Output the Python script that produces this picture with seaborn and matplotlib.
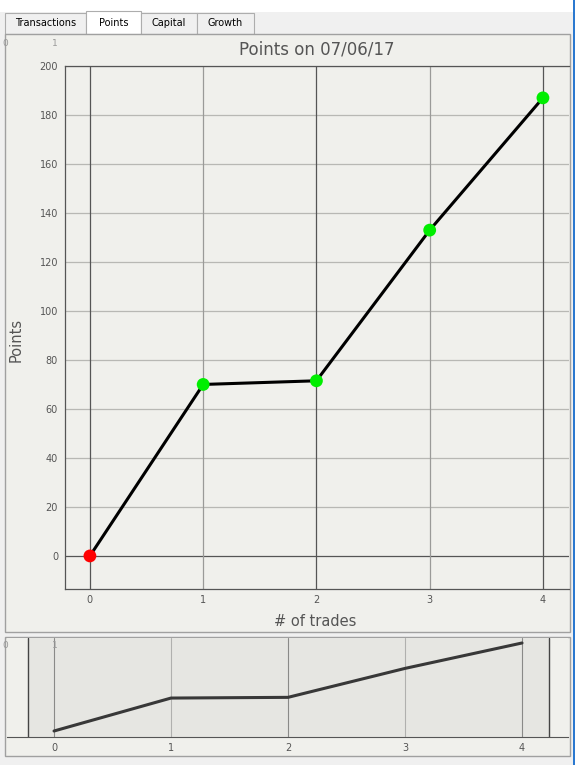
import matplotlib
matplotlib.use("Agg")
import matplotlib.pyplot as plt
from matplotlib.patches import Rectangle
import pandas as pd
import seaborn as sns

trades = [0, 1, 2, 3, 4]
points = [0, 70, 71.5, 133, 187]
marker_kind = ["start", "gain", "gain", "gain", "gain"]
tabs = ["Transactions", "Points", "Capital", "Growth"]
title = "Points on 07/06/17"
y_ticks = list(range(0, 201, 20))

W, H = 575, 765
BG = "#f0f0f0"
PANEL = "#f0f0ec"
TXT = "#555555"


def box(x0, y0, x1, y1):
    # pixel box (top-left origin) -> figure fraction
    return [x0 / W, 1 - y1 / H, (x1 - x0) / W, (y1 - y0) / H]


def rect(fig, x0, y0, x1, y1, fc, ec="none", lw=1.0, z=-5):
    b = box(x0, y0, x1, y1)
    fig.patches.append(Rectangle((b[0], b[1]), b[2], b[3], transform=fig.transFigure,
                                 facecolor=fc, edgecolor=ec, linewidth=lw, zorder=z))


df = pd.DataFrame({"trade": trades, "points": points, "kind": marker_kind})

sns.set_style("white")
plt.rcParams["font.family"] = ["DejaVu Sans"]

fig = plt.figure(figsize=(W / 100, H / 100), dpi=100, facecolor=BG)

# window chrome and tabs
rect(fig, 0, 0, W, 12, "white")
rect(fig, 573, 0, W, H, "#2b79d0")
tab_x = [(5, 86), (86, 141), (141, 197), (197, 254)]
for name, (x0, x1) in zip(tabs, tab_x):
    sel = name == "Points"
    rect(fig, x0, 11 if sel else 13, x1, 34, "white" if sel else BG, ec="#adadad", lw=0.8, z=-4)
    fig.text((x0 + x1) / 2 / W, 1 - 23 / H, name, ha="center", va="center",
             fontsize=7, color="#000000")

# panels
rect(fig, 5, 34, 570, 632, PANEL, ec="#a0a0a0", lw=1.0, z=-3)
rect(fig, 5, 637, 570, 756, PANEL, ec="#a0a0a0", lw=1.0, z=-3)

for yy in (43, 645):
    fig.text(55 / W, 1 - yy / H, "1", ha="center", va="center", fontsize=6.5, color="#999999")
    fig.text(5 / W, 1 - yy / H, "0", ha="center", va="center", fontsize=6.5, color="#999999")

# main plot
ax = fig.add_axes(box(65, 66, 569, 589))
ax.set_facecolor(PANEL)
ax.set_xlim(-0.22, 4.23)
ax.set_ylim(-13.5, 200)
for v in y_ticks:
    ax.axhline(v, color="#555555" if v == 0 else "#b8b8b4", lw=0.9, zorder=0)
for t in trades:
    ax.axvline(t, color="#555555" if t % 2 == 0 else "#9a9a98", lw=0.9, zorder=0)

sns.lineplot(data=df, x="trade", y="points", ax=ax, color="black", lw=2.2, zorder=2)
sns.scatterplot(data=df, x="trade", y="points", hue="kind", ax=ax,
                palette={"start": "#ff0000", "gain": "#00ee00"},
                s=85, edgecolor="none", legend=False, zorder=3)

ax.set_xticks(trades)
ax.set_yticks(y_ticks)
ax.tick_params(length=0, labelsize=7, labelcolor=TXT)
ax.tick_params(axis="x", pad=4)
ax.tick_params(axis="y", pad=5)
ax.set_xlabel("")
ax.set_ylabel("")
for side in ("left", "bottom", "top"):
    ax.spines[side].set_color("#555555")
    ax.spines[side].set_linewidth(0.9)
ax.spines["right"].set_visible(False)

fig.text(317 / W, 1 - 50 / H, title, ha="center", va="center", fontsize=12, color=TXT)
fig.text(315 / W, 1 - 622 / H, "# of trades", ha="center", va="center", fontsize=10.5, color=TXT)
fig.text(16 / W, 1 - 340 / H, "Points", ha="center", va="center", rotation=90,
         fontsize=10.5, color=TXT)

# overview plot
ax2 = fig.add_axes(box(7, 638, 568, 737))
ax2.set_facecolor(PANEL)
ax2.set_xlim(-0.402, 4.393)
ax2.set_ylim(-12.75, 197.6)
ax2.axvspan(-0.22, 4.23, color="#e6e6e2", zorder=0)
for edge in (-0.22, 4.23):
    ax2.axvline(edge, color="#444444", lw=1.0, zorder=1)
for t in trades:
    ax2.axvline(t, color="#8a8a88" if t % 2 == 0 else "#b0b0ae", lw=0.8, zorder=1)
sns.lineplot(data=df, x="trade", y="points", ax=ax2, color="#383838", lw=2.2, zorder=2)
ax2.set_xticks(trades)
ax2.set_yticks([])
ax2.tick_params(length=0, labelsize=7, labelcolor=TXT, pad=4)
ax2.set_xlabel("")
ax2.set_ylabel("")
for side in ("left", "right", "top"):
    ax2.spines[side].set_visible(False)
ax2.spines["bottom"].set_color("#555555")

fig.savefig("out.png", dpi=100, facecolor=BG)
